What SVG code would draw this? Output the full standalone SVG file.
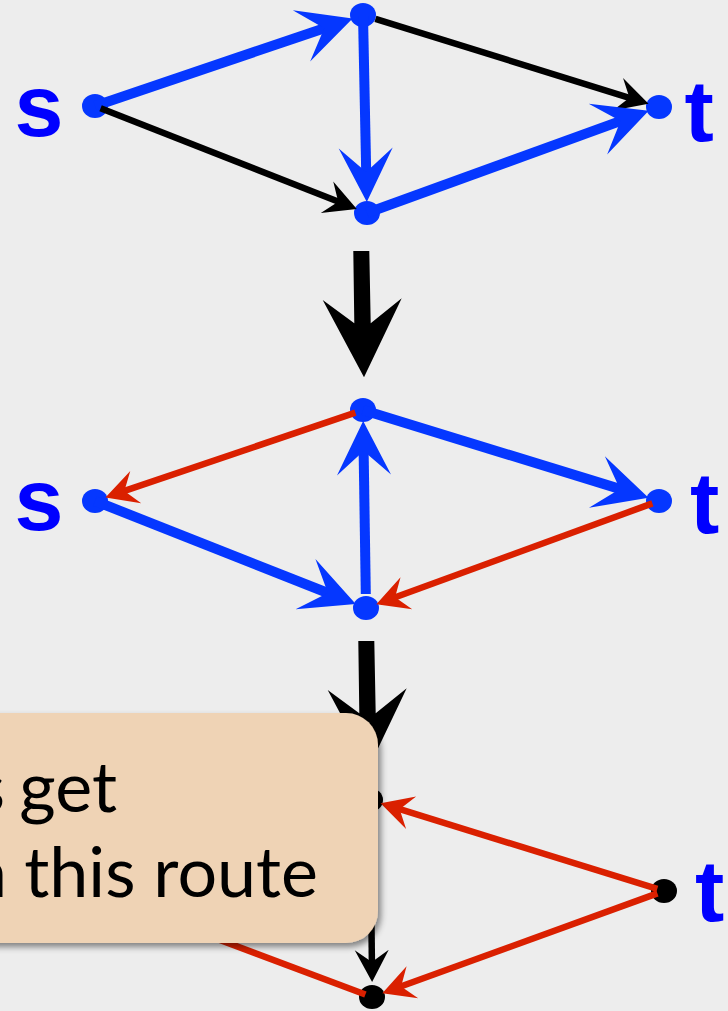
<svg xmlns="http://www.w3.org/2000/svg" width="728" height="1011" viewBox="0 0 728 1011">
  <style>
    .bg { fill: #ededed; }
    .nb { fill: #0537ff; }
    .nk { fill: #000000; }
    .lbl { font-family: "Liberation Sans", Arial, sans-serif; font-weight: bold; font-size: 88px; fill: #0000ff; }
    .eb { stroke: #0537ff; stroke-width: 10; fill: none; marker-end: url(#headBlue); }
    .ek { stroke: #000000; stroke-width: 6.5; fill: none; marker-end: url(#headBlack); }
    .er { stroke: #da2000; stroke-width: 6.5; fill: none; marker-end: url(#headRed); }
    .er0 { stroke: #da2000; stroke-width: 6.5; fill: none; }
    .note { fill: #efd3b5; }
    .notetext { font-family: Lato, "Open Sans", sans-serif; font-size: 70px; fill: #000000; }
  </style>
  <defs>
    <!-- arrowheads: tip at the origin, placed ahead of the line end via refX -->
    <marker id="headBlue" markerUnits="userSpaceOnUse" orient="auto" refX="-15" refY="0" markerWidth="1" markerHeight="1" overflow="visible">
      <path d="M0,0 L-54,-27 L-30,0 L-54,27 Z" fill="#0537ff"/>
    </marker>
    <marker id="headBlack" markerUnits="userSpaceOnUse" orient="auto" refX="-10" refY="0" markerWidth="1" markerHeight="1" overflow="visible">
      <path d="M0,0 L-32,-17 L-20,0 L-32,17 Z" fill="#000000"/>
    </marker>
    <marker id="headRed" markerUnits="userSpaceOnUse" orient="auto" refX="-10" refY="0" markerWidth="1" markerHeight="1" overflow="visible">
      <path d="M0,0 L-32,-17 L-20,0 L-32,17 Z" fill="#da2000"/>
    </marker>
    <!-- big step arrow between stages -->
    <polygon id="stepArrow" points="353.3,251 369.3,251 370.7,323.3 401.7,298.3 364,377.3 322.7,300 354.3,323.3" fill="#000000"/>
    <filter id="shadow" x="-10%" y="-10%" width="130%" height="130%">
      <feDropShadow dx="3" dy="4" stdDeviation="3" flood-color="#000000" flood-opacity="0.45"/>
    </filter>
  </defs>

  <rect class="bg" x="0" y="0" width="728" height="1011"/>

  <!-- stage 1 -->
  <g id="g1-s"><ellipse class="nb" cx="95" cy="106" rx="13" ry="12"/><text class="lbl" x="14.5" y="136">s</text></g>
  <g id="g1-top"><ellipse class="nb" cx="363" cy="15" rx="13" ry="12"/></g>
  <g id="g1-bottom"><ellipse class="nb" cx="367" cy="213" rx="13" ry="12"/></g>
  <g id="g1-t"><ellipse class="nb" cx="659" cy="107" rx="13" ry="12"/><text class="lbl" x="684.5" y="141">t</text></g>

  <!-- stage 2 -->
  <g id="g2-s"><ellipse class="nb" cx="95" cy="501" rx="13" ry="12"/><text class="lbl" x="14.5" y="530">s</text></g>
  <g id="g2-top"><ellipse class="nb" cx="363" cy="410" rx="13" ry="12"/></g>
  <g id="g2-bottom"><ellipse class="nb" cx="366" cy="608" rx="13" ry="12"/></g>
  <g id="g2-t"><ellipse class="nb" cx="659" cy="501" rx="13" ry="12"/><text class="lbl" x="690" y="533">t</text></g>

  <!-- stage 3 -->
  <g id="g3-top"><ellipse class="nk" cx="370" cy="800" rx="13" ry="12"/></g>
  <g id="g3-bottom"><ellipse class="nk" cx="372" cy="997" rx="13" ry="12"/></g>
  <g id="g3-t"><ellipse class="nk" cx="664" cy="891" rx="13" ry="12"/><text class="lbl" x="695" y="921">t</text></g>

  <g id="connectors">
    <!-- stage 1 edges -->
    <line class="eb" x1="95" y1="106" x2="338.4" y2="23.4"/>
    <line class="eb" x1="363" y1="15" x2="366.5" y2="187"/>
    <line class="ek" x1="100.6" y1="108.2" x2="347.5" y2="205.3"/>
    <line class="ek" x1="375.4" y1="18.9" x2="639" y2="100.8"/>
    <line class="eb" x1="367" y1="213" x2="634.6" y2="115.9"/>

    <!-- stage 2 edges -->
    <line class="er" x1="355.4" y1="412.6" x2="114.9" y2="494.2"/>
    <line class="eb" x1="95" y1="501" x2="341.8" y2="598.5"/>
    <line class="eb" x1="365.8" y1="594" x2="363.4" y2="436"/>
    <line class="eb" x1="363" y1="410" x2="634.2" y2="493.4"/>
    <line class="er" x1="652.4" y1="503.4" x2="385.7" y2="600.8"/>

    <!-- stage 3 edges -->
    <line class="er0" x1="95" y1="893" x2="365.4" y2="994.5"/>
    <line class="ek" x1="370" y1="800" x2="372" y2="972"/>
    <line class="er" x1="657.3" y1="888.9" x2="390.1" y2="806.2"/>
    <line class="er" x1="657.4" y1="893.4" x2="391.7" y2="989.8"/>

    <!-- step arrows between stages -->
    <use href="#stepArrow"/>
    <use href="#stepArrow" transform="translate(5,390)"/>
  </g>

  <g id="callout">
    <rect class="note" x="-40" y="713" width="418" height="230" rx="32" ry="32" filter="url(#shadow)"/>
    <text class="notetext" y="812"><tspan x="5" text-anchor="end">s</tspan><tspan x="117" text-anchor="end">get</tspan></text>
    <text class="notetext" y="897"><tspan x="7" text-anchor="end">n</tspan><tspan x="318" text-anchor="end">this route</tspan></text>
  </g>
</svg>
